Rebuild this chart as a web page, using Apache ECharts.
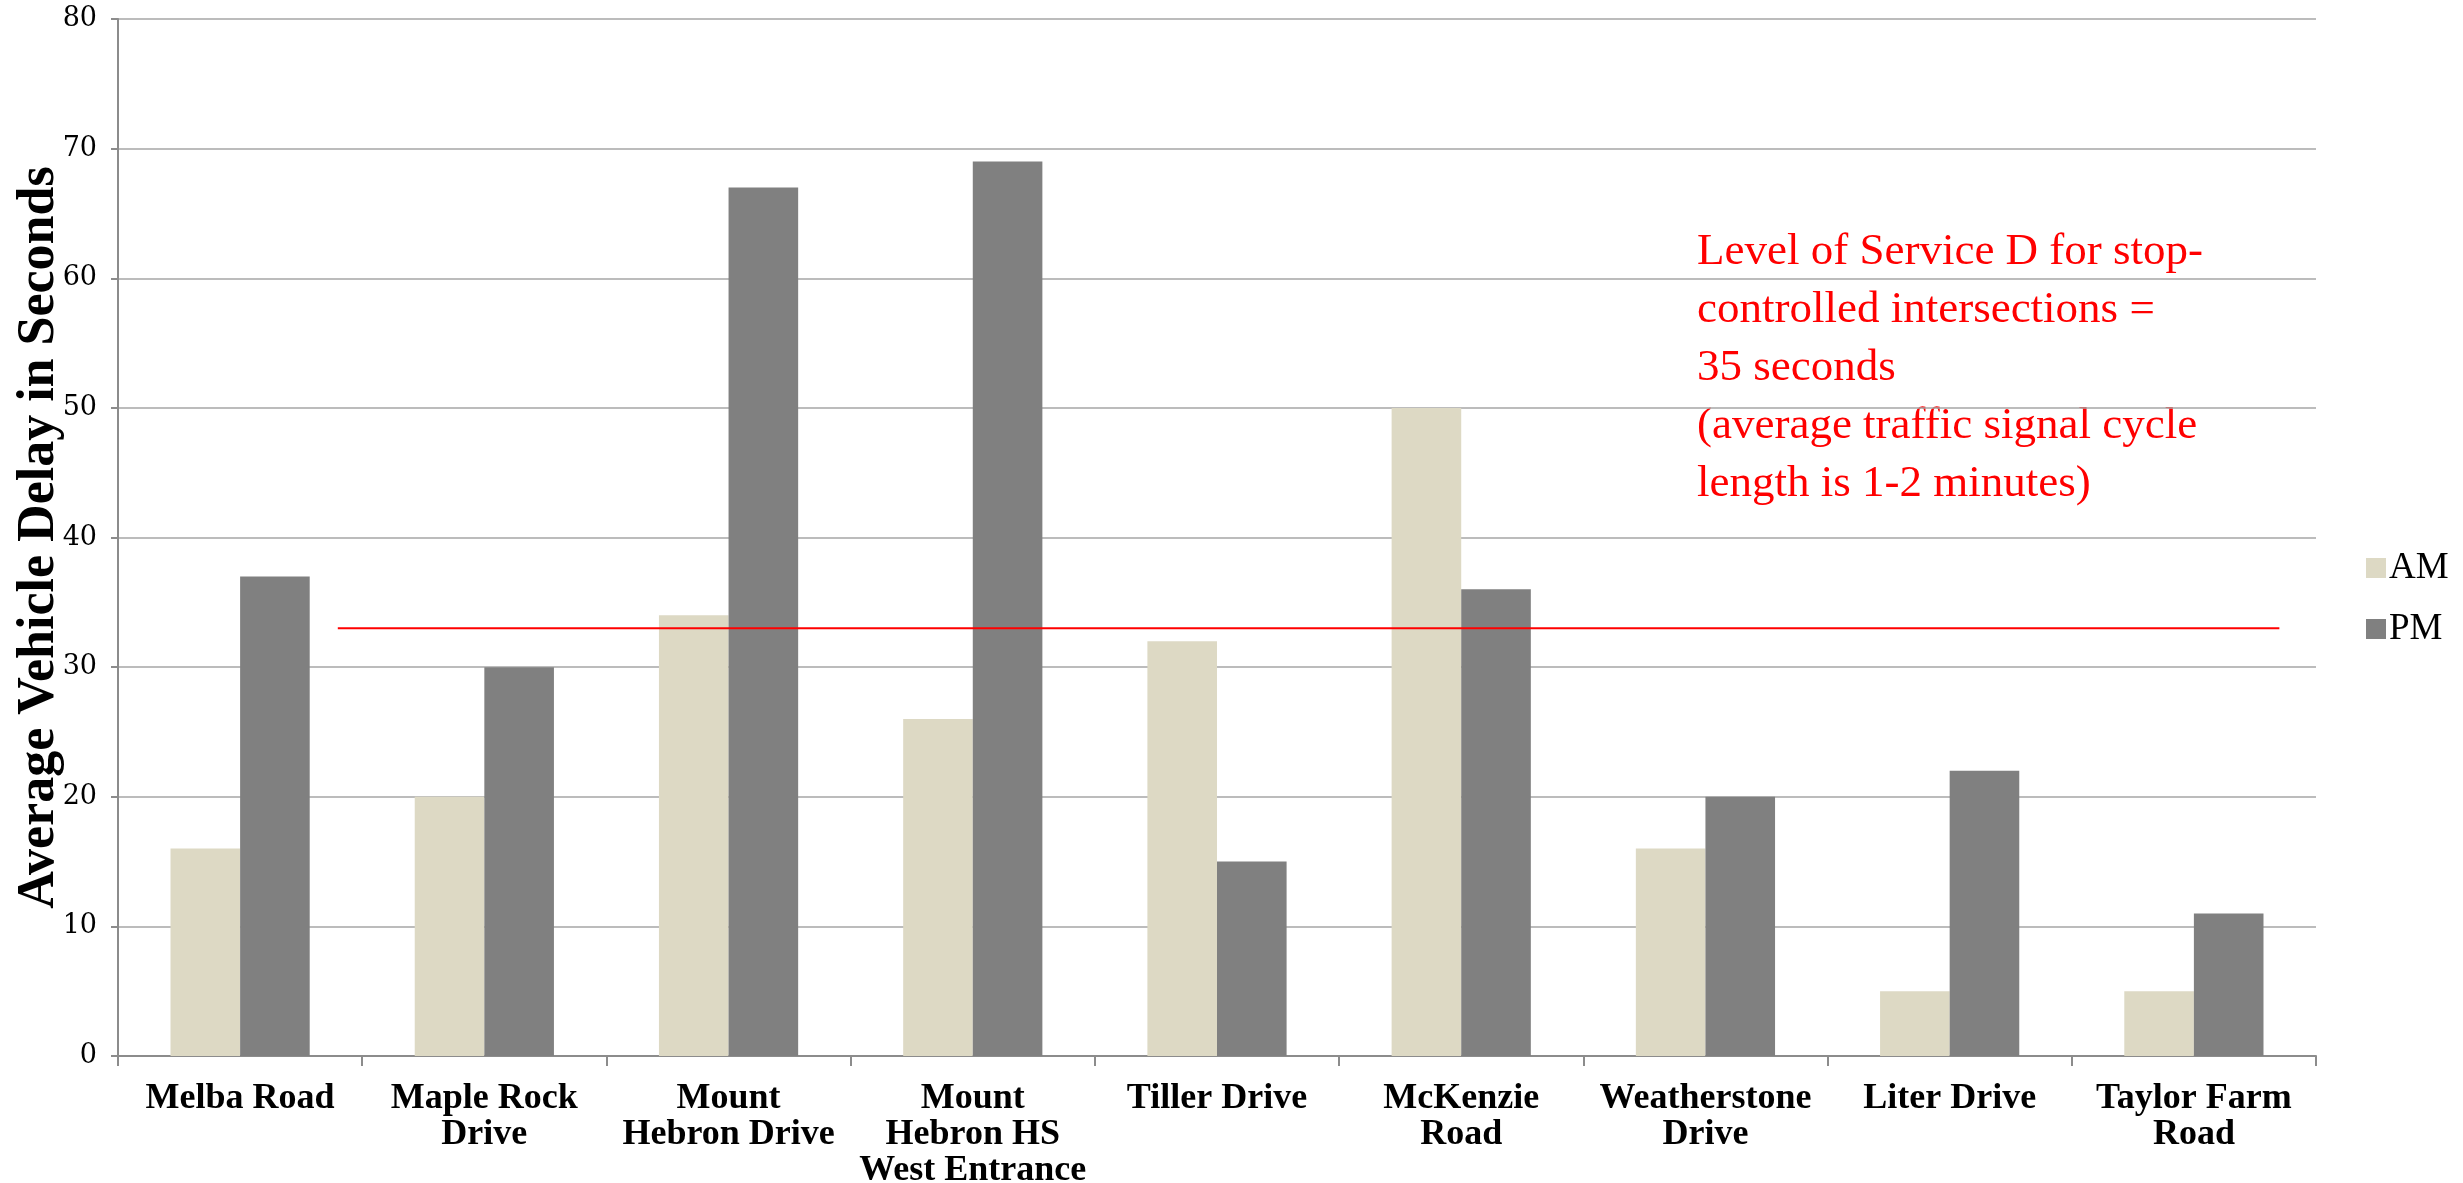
<!DOCTYPE html>
<html>
<head>
<meta charset="utf-8">
<script src="https://cdn.jsdelivr.net/npm/echarts@6/dist/echarts.min.js"></script>
<style>
html,body{margin:0;padding:0;background:#fff;}
#chart{width:2463px;height:1183px;}
</style>
</head>
<body>
<div id="chart"></div>
<script>
const categories = ["Melba Road", "Maple Rock\nDrive", "Mount\nHebron Drive", "Mount\nHebron HS\nWest Entrance", "Tiller Drive", "McKenzie\nRoad", "Weatherstone\nDrive", "Liter Drive", "Taylor Farm\nRoad"];
const amValues = [16, 20, 34, 26, 32, 50, 16, 5, 5];
const pmValues = [37, 30, 67, 69, 15, 36, 20, 22, 11];
const seriesNames = ["AM", "PM"];
const yTicks = [0, 80, 10];
const refLineValue = 33;
const refLineSpan = [0.9, 8.85];
const annotationLines = ["Level of Service D for stop-", "controlled intersections =", "35 seconds", "(average traffic signal cycle", "length is 1-2 minutes)"];
const yAxisTitle = "Average Vehicle Delay in Seconds";

const chart = echarts.init(document.getElementById('chart'), null, {renderer: 'canvas'});
const option = {
  animation: false,
  backgroundColor: '#ffffff',
  grid: {left: 118, top: 19, right: 147, bottom: 127, containLabel: false, outerBoundsMode: 'none'},
  legend: {
    data: seriesNames,
    orient: 'vertical',
    left: 2361,
    top: 544,
    itemWidth: 20,
    itemHeight: 20,
    itemGap: 23,
    icon: 'rect',
    textStyle: {fontFamily: 'Liberation Serif', fontSize: 37, color: '#000', lineHeight: 38, padding: [0,0,0,-2]}
  },
  xAxis: [{
    type: 'category',
    data: categories,
    axisLine: {lineStyle: {color: '#8c8c8c', width: 2}},
    axisTick: {show: true, length: 10, lineStyle: {color: '#8c8c8c', width: 2}},
    axisLabel: {interval: 0, margin: 25, fontFamily: 'Liberation Serif', fontWeight: 'bold', fontSize: 36, lineHeight: 36, color: '#000'},
    splitLine: {show: false}
  }, {
    type: 'value',
    min: 0,
    max: categories.length,
    show: false
  }],
  yAxis: {
    type: 'value',
    min: yTicks[0],
    max: yTicks[1],
    interval: yTicks[2],
    name: yAxisTitle,
    nameLocation: 'middle',
    nameRotate: 90,
    nameGap: 52,
    nameMoveOverlap: false,
    nameTextStyle: {fontFamily: 'Liberation Serif', fontWeight: 'bold', fontSize: 52, color: '#000'},
    axisLine: {show: true, lineStyle: {color: '#8c8c8c', width: 2}},
    axisTick: {show: true, length: 7, lineStyle: {color: '#8c8c8c', width: 2}},
    axisLabel: {margin: 21, fontFamily: 'DejaVu Serif', fontSize: 27, color: '#000'},
    splitLine: {show: true, lineStyle: {color: '#a6a6a6', width: 1.5}}
  },
  series: [{
    name: seriesNames[0],
    type: 'bar',
    data: amValues,
    barGap: '0%',
    barCategoryGap: '43%',
    itemStyle: {color: '#ddd9c4'}
  }, {
    name: seriesNames[1],
    type: 'bar',
    data: pmValues,
    barGap: '0%',
    barCategoryGap: '43%',
    itemStyle: {color: '#808080'}
  }, {
    name: 'LOS D',
    type: 'line',
    xAxisIndex: 1,
    data: [[refLineSpan[0], refLineValue], [refLineSpan[1], refLineValue]],
    symbol: 'none',
    silent: true,
    lineStyle: {color: '#ff0000', width: 2},
    z: 5
  }],
  graphic: [{
    type: 'text',
    left: 1697,
    top: 223,
    style: {
      text: annotationLines.join('\n'),
      fill: '#ff0000',
      font: '45px "Liberation Serif"',
      lineHeight: 58
    }
  }]
};
chart.setOption(option);
</script>
</body>
</html>
